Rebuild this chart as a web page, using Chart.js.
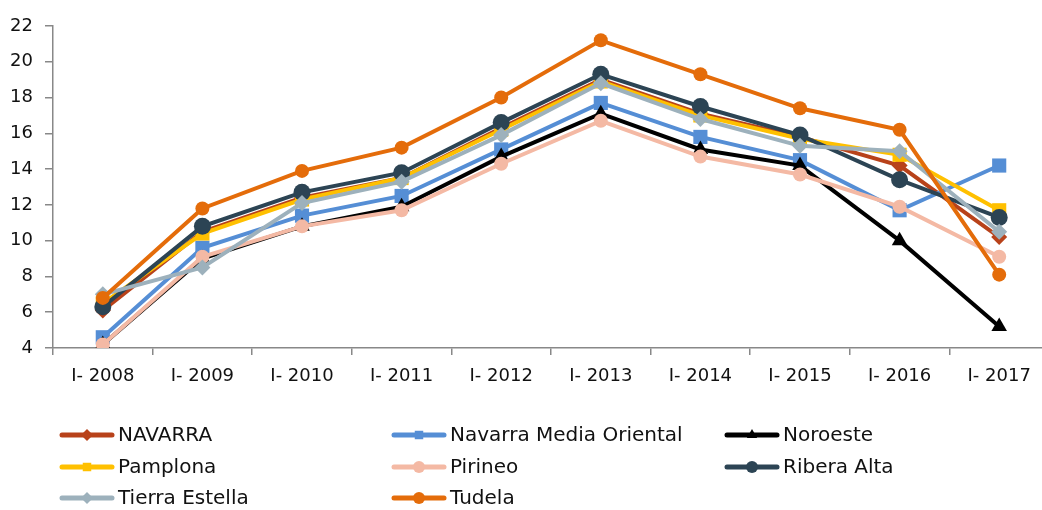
<!DOCTYPE html>
<html><head><meta charset="utf-8">
<script src="https://cdn.jsdelivr.net/npm/chart.js@4/dist/chart.umd.min.js"></script>
<style>html,body{margin:0;padding:0;background:#fff;overflow:hidden;width:1042px;height:510px}#wrap{width:1059px;height:510px;position:relative}</style>
</head><body><div id="wrap"><canvas id="c" width="1059" height="510" style="width:1059px;height:510px"></canvas></div>
<script>
const categories = ['I- 2008','I- 2009','I- 2010','I- 2011','I- 2012','I- 2013','I- 2014','I- 2015','I- 2016','I- 2017'];
const navarra   = [6.1, 10.5, 12.4, 13.5, 16.3, 19.0, 17.1, 15.8, 14.2, 10.2];
const nmo       = [4.6, 9.6, 11.4, 12.5, 15.1, 17.7, 15.8, 14.5, 11.7, 14.2];
const noroeste  = [4.2, 9.0, 10.8, 11.9, 14.7, 17.1, 15.1, 14.2, 10.0, 5.2];
const pamplona  = [6.5, 10.4, 12.3, 13.5, 16.2, 18.9, 17.0, 15.7, 14.8, 11.7];
const pirineo   = [4.2, 9.1, 10.8, 11.7, 14.3, 16.7, 14.7, 13.7, 11.9, 9.1];
const riberaAlta= [6.3, 10.8, 12.7, 13.8, 16.6, 19.3, 17.5, 15.9, 13.4, 11.3];
const tierraEst = [7.0, 8.5, 12.1, 13.3, 15.9, 18.8, 16.8, 15.3, 15.0, 10.5];
const tudela    = [6.8, 11.8, 13.9, 15.2, 18.0, 21.2, 19.3, 17.4, 16.2, 8.1];
const seriesNames = ['NAVARRA','Navarra Media Oriental','Noroeste','Pamplona','Pirineo','Ribera Alta','Tierra Estella','Tudela'];
const yTicks = {min: 4, max: 22, step: 2};

const FONT = "'DejaVu Sans', sans-serif";
const styles = [
  {c:'#B8421A', p:'rectRot', r:8},
  {c:'#558ED5', p:'rect', r:10},
  {c:'#000000', p:'triangle', r:9},
  {c:'#FFC000', p:'rect', r:10},
  {c:'#F4B9A4', p:'circle', r:7},
  {c:'#2C4454', p:'circle', r:8.5},
  {c:'#9DB1BC', p:'rectRot', r:8},
  {c:'#E46C0A', p:'circle', r:7}
];
const values = [navarra, nmo, noroeste, pamplona, pirineo, riberaAlta, tierraEst, tudela];
const datasets = values.map((d,i)=>({
  label: seriesNames[i], data: d,
  borderColor: styles[i].c, backgroundColor: styles[i].c,
  pointBackgroundColor: styles[i].c, pointBorderColor: styles[i].c,
  pointStyle: styles[i].p, pointRadius: styles[i].r, pointBorderWidth: 0,
  borderWidth: 4, tension: 0, order: values.length - i
}));

const legendPos = [
  [60,435],[392,435],[725,435],
  [60,467],[392,467],[725,467],
  [60,498],[392,498]
];
const legendPlugin = {
  id:'customLegend',
  afterDraw(chart){
    const ctx = chart.ctx;
    ctx.save();
    datasets.forEach((ds,i)=>{
      const [x,y] = legendPos[i];
      ctx.strokeStyle = ds.borderColor; ctx.lineWidth = 5; ctx.lineCap='round';
      ctx.beginPath(); ctx.moveTo(x+2,y); ctx.lineTo(x+52,y); ctx.stroke();
      ctx.fillStyle = ds.borderColor;
      Chart.helpers.drawPoint(ctx, {pointStyle: ds.pointStyle, radius: 6, borderWidth: 0}, x+27, y);
      ctx.fillStyle = '#111';
      ctx.font = '20px ' + FONT;
      ctx.textBaseline = 'middle'; ctx.textAlign='left';
      ctx.fillText(ds.label, x+58, y+1);
    });
    ctx.restore();
  }
};

new Chart(document.getElementById('c'), {
  type:'line',
  data:{labels: categories, datasets},
  options:{
    responsive:false, maintainAspectRatio:false, animation:false,
    layout:{padding:{top:26, right:3, bottom:112, left:0}},
    plugins:{legend:{display:false}, tooltip:{enabled:false}},
    scales:{
      x:{offset:true,
        afterFit(s){ s.height = 50; },
        grid:{display:true, offset:true, drawOnChartArea:false, tickLength:7, color:'#888', lineWidth:1.5},
        border:{color:'#888', width:1.5},
        ticks:{color:'#111', font:{size:18, family:FONT}, padding:11, maxRotation:0}},
      y:{min:yTicks.min, max:yTicks.max,
        afterFit(s){ s.width = 53; },
        grid:{display:true, drawOnChartArea:false, tickLength:8, color:'#888', lineWidth:1.5},
        border:{color:'#888', width:1.5},
        ticks:{stepSize:yTicks.step, color:'#111', font:{size:18, family:FONT}, padding:12}}
    }
  },
  plugins:[legendPlugin]
});
</script></body></html>
